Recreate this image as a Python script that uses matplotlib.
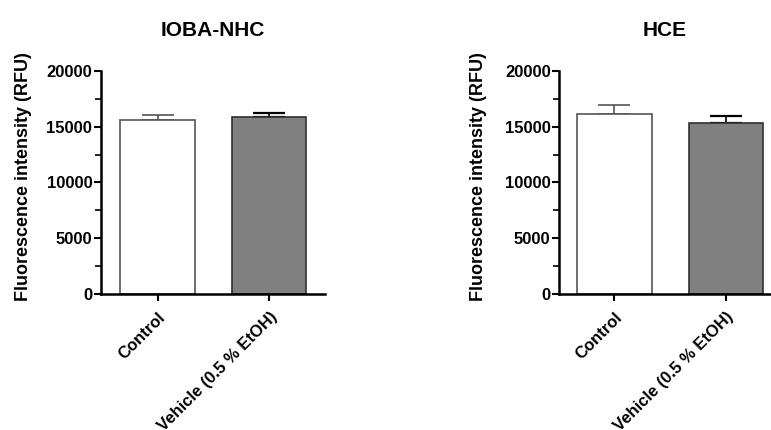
import matplotlib
matplotlib.use("Agg")
import matplotlib.pyplot as plt
from matplotlib.ticker import MultipleLocator

plt.rcParams['font.family'] = ['Liberation Sans', 'DejaVu Sans']
plt.rcParams['font.weight'] = 'bold'

groups = ["Control", "Vehicle (0.5 % EtOH)"]
ioba_mean = [15550, 15900]
ioba_sem = [480, 360]
hce_mean = [16120, 15290]
hce_sem = [800, 680]
titles = ["IOBA-NHC", "HCE"]

faces = ["white", "#808080"]
edges = ["#555555", "#303030"]
err_colors = ["#555555", "black"]

fig = plt.figure(figsize=(7.71, 4.30), dpi=100)
ax1 = fig.add_axes([0.1306, 0.3156, 0.2909, 0.52])
ax2 = fig.add_axes([0.725, 0.3156, 0.2746, 0.52])
xlims = [(-0.51, 1.5), (-0.496, 1.40)]
label_x = [-0.306, -0.340]

for ax, means, sems, title, xl, lx in zip([ax1, ax2], [ioba_mean, hce_mean],
                                          [ioba_sem, hce_sem], titles, xlims,
                                          label_x):
    x = range(len(groups))
    for i in x:
        ax.bar(i, means[i], width=0.667, color=faces[i], edgecolor=edges[i],
               linewidth=1.2, zorder=2)
        ax.errorbar(i, means[i], yerr=[[0], [sems[i]]], fmt='none',
                    ecolor=err_colors[i], elinewidth=1.2, capsize=11.5,
                    capthick=1.6 if i else 1.2, zorder=1)
    ax.set_xlim(*xl)
    ax.set_ylim(0, 20000)
    ax.yaxis.set_major_locator(MultipleLocator(5000))
    ax.yaxis.set_minor_locator(MultipleLocator(2500))
    ax.set_xticks(list(x))
    ax.set_xticklabels(groups, rotation=45, ha='right', va='top',
                       rotation_mode='anchor', fontsize=12, fontweight='bold')
    for lab in ax.get_yticklabels():
        lab.set_fontsize(12)
        lab.set_fontweight('bold')
    ax.tick_params(axis='both', which='major', direction='out', length=5,
                   width=1.5, pad=1)
    ax.tick_params(axis='y', which='minor', direction='out', length=4, width=1.2)
    ax.tick_params(axis='x', pad=6)
    for s in ['top', 'right']:
        ax.spines[s].set_visible(False)
    for s in ['left', 'bottom']:
        ax.spines[s].set_linewidth(1.8)
    ax.set_ylabel("Fluorescence intensity (RFU)", fontsize=13, fontweight='bold')
    ax.yaxis.set_label_coords(lx, 0.525)
    ax.set_title(title, fontsize=15, fontweight='bold', pad=25)

fig.savefig("out.png", dpi=100)
